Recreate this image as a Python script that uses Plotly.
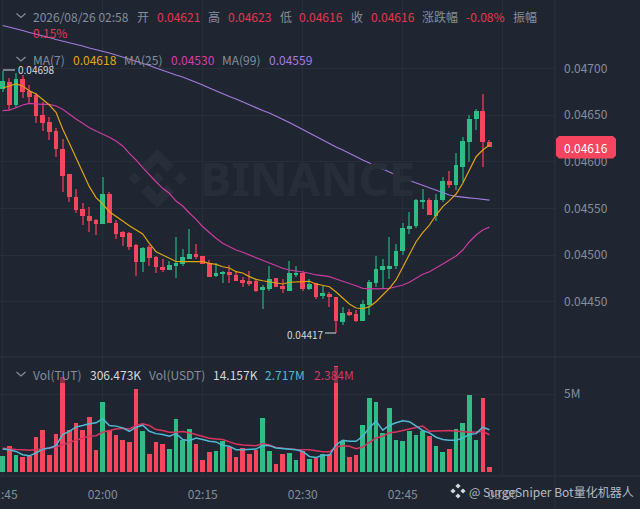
"""TUT/USDT 1m candles with MA lines and a volume panel."""

import pandas as pd
import plotly.graph_objs as go
from plotly.subplots import make_subplots

WIDTH = 640
HEIGHT = 509
PANE_RIGHT = 555
MAIN_BOTTOM = 357
VOL_BOTTOM = 476

BG = "#1f2631"
GRID = "#272e3a"
DIVIDER = "#2c3340"
MUTED = "#848e9c"
UP = "#2ebd85"
DOWN = "#f6465d"
UP_WICK = "#1f7d5f"
DOWN_WICK = "#a63349"
FONT = "Noto Sans CJK SC, Noto Sans, sans-serif"

# prices are kept in ticks of 0.00001
PRICE_TICK = 1e-5

times = pd.date_range("2026-08-26 01:45", "2026-08-26 02:58", freq="min")

opens = [
    4678, 4686, 4661, 4689, 4676, 4672, 4650, 4643, 4633, 4614,
    4587, 4562, 4549, 4542, 4538, 4533, 4566, 4535, 4525, 4524,
    4511, 4493, 4509, 4498, 4487, 4484, 4488, 4491, 4496, 4501,
    4499, 4492, 4478, 4480, 4482, 4479, 4473, 4472, 4472, 4463,
    4464, 4476, 4467, 4462, 4479, 4481, 4464, 4470, 4456, 4458,
    4455, 4428, 4439, 4437, 4430, 4447, 4470, 4484, 4486, 4488,
    4504, 4528, 4531, 4557, 4559, 4542, 4559, 4579, 4575, 4595,
    4621, 4646, 4655, 4621,
]
highs = [
    4697, 4690, 4695, 4693, 4682, 4674, 4664, 4648, 4636, 4625,
    4587, 4571, 4556, 4552, 4539, 4584, 4568, 4538, 4526, 4525,
    4512, 4509, 4511, 4499, 4496, 4494, 4519, 4507, 4528, 4512,
    4499, 4495, 4492, 4483, 4489, 4483, 4477, 4483, 4473, 4468,
    4488, 4476, 4474, 4494, 4488, 4483, 4474, 4470, 4467, 4461,
    4455, 4445, 4442, 4441, 4452, 4473, 4499, 4496, 4520, 4512,
    4535, 4546, 4560, 4571, 4561, 4566, 4584, 4590, 4610, 4627,
    4650, 4657, 4673, 4623,
]
lows = [
    4675, 4656, 4658, 4668, 4663, 4642, 4633, 4623, 4605, 4568,
    4557, 4545, 4532, 4525, 4522, 4533, 4534, 4517, 4510, 4506,
    4478, 4482, 4488, 4481, 4482, 4484, 4476, 4488, 4496, 4496,
    4491, 4477, 4477, 4470, 4470, 4472, 4466, 4467, 4461, 4442,
    4462, 4466, 4459, 4462, 4477, 4462, 4463, 4453, 4453, 4445,
    4417, 4425, 4435, 4428, 4429, 4436, 4466, 4464, 4475, 4485,
    4500, 4523, 4529, 4549, 4543, 4537, 4557, 4572, 4570, 4578,
    4600, 4634, 4595, 4616,
]
closes = [
    4687, 4661, 4689, 4675, 4670, 4649, 4642, 4632, 4614, 4585,
    4562, 4548, 4542, 4537, 4533, 4566, 4534, 4523, 4520, 4509,
    4493, 4508, 4497, 4487, 4484, 4489, 4492, 4498, 4501, 4498,
    4491, 4477, 4481, 4482, 4479, 4472, 4470, 4470, 4462, 4466,
    4475, 4466, 4464, 4481, 4481, 4464, 4469, 4455, 4459, 4455,
    4430, 4438, 4436, 4429, 4448, 4471, 4485, 4488, 4488, 4504,
    4529, 4531, 4559, 4559, 4543, 4559, 4579, 4575, 4597, 4622,
    4646, 4655, 4621, 4616,
]

ma7 = [
    4679.1, 4681.3, 4683.4, 4681.3, 4676.2, 4672.7, 4667.0, 4660.9, 4653.1, 4635.2,
    4619.9, 4603.8, 4587.7, 4573.4, 4561.6, 4554.8, 4546.6, 4541.2, 4536.6, 4531.6,
    4527.0, 4522.7, 4512.7, 4503.7, 4500.2, 4497.0, 4493.2, 4493.0, 4493.0, 4493.0,
    4493.0, 4491.3, 4490.2, 4487.6, 4486.3, 4482.3, 4480.9, 4477.0, 4474.1, 4472.6,
    4471.3, 4469.9, 4469.1, 4471.0, 4471.6, 4472.0, 4472.0, 4469.1, 4467.7, 4466.2,
    4460.5, 4454.1, 4447.7, 4443.4, 4442.6, 4444.8, 4450.1, 4457.3, 4464.5, 4473.4,
    4487.6, 4501.3, 4514.4, 4524.1, 4532.3, 4543.0, 4552.0, 4558.4, 4565.5, 4577.0,
    4591.3, 4605.5, 4612.7, 4618.0,
]
ma25 = [
    4654.8, 4655.5, 4658.0, 4660.9, 4662.7, 4662.0, 4661.6, 4661.6, 4659.8, 4656.3,
    4650.9, 4645.9, 4641.3, 4636.6, 4633.0, 4629.8, 4626.3, 4622.3, 4617.0, 4609.1,
    4602.0, 4593.7, 4585.9, 4578.7, 4571.6, 4566.3, 4558.0, 4552.7, 4545.2, 4538.4,
    4530.5, 4524.1, 4518.1, 4512.7, 4509.1, 4505.5, 4503.1, 4500.2, 4497.3, 4494.1,
    4491.3, 4488.4, 4486.0, 4484.1, 4483.4, 4482.0, 4480.6, 4478.8, 4478.0, 4477.0,
    4474.5, 4472.3, 4470.0, 4467.3, 4464.5, 4463.8, 4463.8, 4464.1, 4464.5, 4466.2,
    4468.0, 4471.0, 4475.2, 4479.5, 4482.3, 4486.0, 4490.5, 4494.8, 4499.1, 4505.5,
    4514.4, 4521.6, 4527.0, 4530.0,
]
ma99 = [
    4746.1, 4744.5, 4742.3, 4740.7, 4738.6, 4737.0, 4734.8, 4733.2, 4731.1, 4729.5,
    4727.9, 4725.7, 4724.1, 4722.0, 4720.4, 4718.2, 4716.6, 4714.5, 4712.3, 4710.2,
    4707.5, 4705.4, 4703.2, 4700.5, 4697.9, 4695.2, 4693.0, 4690.9, 4688.2, 4685.5,
    4682.3, 4679.1, 4675.9, 4673.2, 4670.0, 4667.3, 4664.1, 4660.9, 4658.2, 4655.0,
    4652.3, 4649.1, 4645.9, 4642.1, 4638.4, 4634.6, 4630.9, 4626.6, 4622.9, 4619.1,
    4615.9, 4612.7, 4608.9, 4605.2, 4602.0, 4598.8, 4595.5, 4592.3, 4589.1, 4585.9,
    4582.7, 4580.0, 4577.3, 4574.6, 4572.0, 4569.3, 4566.6, 4564.5, 4562.9, 4561.8,
    4561.3, 4560.7, 4560.2, 4559.0,
]

# volume in millions
volumes = [
    1.05, 1.70, 1.08, 0.97, 1.05, 2.26, 2.73, 1.12, 2.43, 6.06,
    2.73, 3.16, 2.69, 3.55, 1.44, 4.49, 2.69, 2.41, 2.06, 1.91,
    5.35, 2.67, 1.18, 1.94, 1.83, 1.48, 3.42, 2.09, 2.77, 1.83,
    0.80, 1.31, 1.35, 2.00, 1.61, 0.97, 1.55, 1.16, 1.44, 3.48,
    1.38, 0.54, 1.18, 1.23, 0.80, 1.33, 0.86, 0.92, 1.16, 1.16,
    6.77, 1.98, 0.97, 1.10, 2.99, 4.77, 4.52, 2.52, 4.13, 2.09,
    2.02, 2.62, 2.39, 2.62, 2.30, 1.66, 1.29, 1.48, 2.77, 3.12,
    4.95, 2.09, 4.77, 0.36,
]
vol_ma_fast = [
    1.48, 1.44, 1.33, 1.12, 1.05, 1.23, 1.48, 1.55, 1.70, 2.41,
    2.62, 2.90, 2.99, 3.10, 3.16, 3.42, 2.99, 2.95, 2.84, 2.62,
    2.88, 3.01, 2.62, 2.47, 2.41, 2.30, 2.47, 2.09, 2.02, 2.19,
    2.09, 1.98, 1.94, 1.72, 1.66, 1.44, 1.44, 1.48, 1.48, 1.72,
    1.70, 1.55, 1.51, 1.48, 1.44, 1.33, 1.01, 0.95, 1.08, 1.08,
    1.76, 2.04, 1.98, 1.98, 2.30, 2.84, 3.27, 2.69, 3.01, 3.16,
    3.29, 3.23, 2.95, 2.67, 2.52, 2.24, 2.09, 2.04, 2.04, 2.19,
    2.41, 2.47, 2.88, 2.72,
]
vol_ma_slow = [
    1.53, 1.48, 1.46, 1.44, 1.40, 1.44, 1.51, 1.55, 1.61, 1.76,
    1.91, 2.02, 2.19, 2.30, 2.34, 2.56, 2.67, 2.77, 2.82, 2.77,
    2.99, 3.10, 2.99, 2.73, 2.67, 2.56, 2.56, 2.60, 2.52, 2.41,
    2.26, 2.17, 2.13, 2.09, 1.94, 1.81, 1.74, 1.70, 1.70, 1.83,
    1.74, 1.59, 1.53, 1.48, 1.46, 1.46, 1.44, 1.38, 1.31, 1.31,
    1.61, 1.70, 1.66, 1.51, 1.61, 1.91, 2.19, 2.30, 2.52, 2.58,
    2.69, 2.77, 2.86, 2.95, 2.62, 2.62, 2.65, 2.67, 2.62, 2.58,
    2.56, 2.58, 2.62, 2.40,
]

price_ticks = [0.0470, 0.0465, 0.0460, 0.0455, 0.0450, 0.0445]
price_labels = ["0.04700", "0.04650", "0.04600", "0.04550", "0.04500", "0.04450"]


def to_price(ticks):
    return [v * PRICE_TICK for v in ticks]


def px(x):
    return x / WIDTH


def py(y):
    return 1 - y / HEIGHT


def path(points, close=True):
    parts = [f"{'M' if i == 0 else 'L'}{px(x):.5f},{py(y):.5f}" for i, (x, y) in enumerate(points)]
    return " ".join(parts) + (" Z" if close else "")


def label(text, x, y, color=MUTED, size=12, anchor="left"):
    return {
        "text": text,
        "xref": "paper",
        "yref": "paper",
        "x": px(x),
        "y": py(y),
        "xanchor": anchor,
        "yanchor": "middle",
        "showarrow": False,
        "font": {"family": FONT, "size": size, "color": color},
    }


def diamond(cx, cy, r):
    return [(cx, cy - r), (cx + r, cy), (cx, cy + r), (cx - r, cy)]


def chevron(x, y):
    return {
        "type": "path",
        "xref": "paper",
        "yref": "paper",
        "path": path([(x, y), (x + 4.5, y + 4), (x + 9, y)], close=False),
        "line": {"color": MUTED, "width": 1.2},
    }


def rule(x0, y0, x1, y1, color=DIVIDER, width=1):
    return {
        "type": "line",
        "xref": "paper",
        "yref": "paper",
        "x0": px(x0),
        "y0": py(y0),
        "x1": px(x1),
        "y1": py(y1),
        "line": {"color": color, "width": width},
    }


def filled(points, color):
    return {
        "type": "path",
        "xref": "paper",
        "yref": "paper",
        "path": path(points),
        "fillcolor": color,
        "line": {"width": 0},
    }


is_up = [c >= o for o, c in zip(opens, closes)]
wick_colors = [UP_WICK if u else DOWN_WICK for u in is_up]
candle_colors = [UP if u else DOWN for u in is_up]
body_base = [min(o, c) * PRICE_TICK for o, c in zip(opens, closes)]
body_size = [max(abs(c - o), 0.5) * PRICE_TICK for o, c in zip(opens, closes)]
wick_size = [(h - l) * PRICE_TICK for h, l in zip(highs, lows)]

MINUTE_MS = 60000

fig = make_subplots(rows=2, cols=1, shared_xaxes=True, vertical_spacing=0)

# Candles: wick first, body on top
fig.add_trace(
    go.Bar(
        x=times,
        y=wick_size,
        base=to_price(lows),
        width=0.16 * MINUTE_MS,
        marker={"color": wick_colors, "line": {"width": 0}},
    ),
    row=1,
    col=1,
)
fig.add_trace(
    go.Bar(
        x=times,
        y=body_size,
        base=body_base,
        width=0.72 * MINUTE_MS,
        marker={"color": candle_colors, "line": {"width": 0}},
    ),
    row=1,
    col=1,
)

for values, color in [(ma99, "#a47bdc"), (ma25, "#cb3ba3"), (ma7, "#dfa40e")]:
    fig.add_trace(
        go.Scatter(
            x=times,
            y=to_price(values),
            mode="lines",
            line={"color": color, "width": 1.2},
        ),
        row=1,
        col=1,
    )

# Volume panel
fig.add_trace(
    go.Bar(
        x=times,
        y=volumes,
        width=0.68 * MINUTE_MS,
        marker={"color": candle_colors, "line": {"width": 0}},
    ),
    row=2,
    col=1,
)
for values, color in [(vol_ma_slow, "#d9345f"), (vol_ma_fast, "#4fb9d4")]:
    fig.add_trace(
        go.Scatter(
            x=times,
            y=values,
            mode="lines",
            line={"color": color, "width": 1.5},
        ),
        row=2,
        col=1,
    )

RED_TEXT = "#e5364f"
header_row = [
    ("2026/08/26 02:58", 31.4, MUTED),
    ("开", 134.7, MUTED),
    ("0.04621", 154.7, RED_TEXT),
    ("高", 206, MUTED),
    ("0.04623", 226, RED_TEXT),
    ("低", 277.5, MUTED),
    ("0.04616", 297, RED_TEXT),
    ("收", 349, MUTED),
    ("0.04616", 368.6, RED_TEXT),
    ("涨跌幅", 420.4, MUTED),
    ("-0.08%", 464, RED_TEXT),
    ("振幅", 511, MUTED),
]
ma_row = [
    ("MA(7)", 31.4, MUTED),
    ("0.04618", 71, "#e3a60f"),
    ("MA(25)", 122.4, MUTED),
    ("0.04530", 168.6, "#d63fa8"),
    ("MA(99)", 220.4, MUTED),
    ("0.04559", 266.5, "#a77be8"),
]
vol_row = [
    ("Vol(TUT)", 31, MUTED),
    ("306.473K", 88, "#d5d8dd"),
    ("Vol(USDT)", 146.7, MUTED),
    ("14.157K", 211, "#d5d8dd"),
    ("2.717M", 263.3, "#4fb9d4"),
    ("2.384M", 311.7, "#d9345f"),
]

annotations = [label(t, x, 16.5, c) for t, x, c in header_row]
annotations.append(label("0.15%", 31.4, 33, RED_TEXT))
annotations += [label(t, x, 59, c) for t, x, c in ma_row]
annotations += [label(t, x, 374, c) for t, x, c in vol_row]
annotations += [
    label("0.04698", 16, 70, "#d5d8dd", size=10),
    label("0.04417", 285, 334, "#d5d8dd", size=10),
    label("0.04616", 586, 147.5, "#ffffff", anchor="center"),
    label("BINANCE", 198, 178, "#272e39", size=47),
    label("@ SurgeSniper Bot量化机器人", 467, 491, "#b4b9c2", size=12),
]
annotations[-2]["font"]["family"] = "Noto Sans, sans-serif"
annotations[-2]["font"]["weight"] = 700

WATERMARK = "#272e39"
shapes = [
    # Panel dividers
    rule(PANE_RIGHT, 0, PANE_RIGHT, HEIGHT),
    rule(0, MAIN_BOTTOM, WIDTH, MAIN_BOTTOM),
    rule(0, VOL_BOTTOM, WIDTH, VOL_BOTTOM),
    # Backdrop of the volume legend
    {
        "type": "rect",
        "xref": "paper",
        "yref": "paper",
        "x0": px(26),
        "x1": px(356),
        "y0": py(367),
        "y1": py(383),
        "fillcolor": "rgba(31,38,49,0.55)",
        "line": {"width": 0},
    },
    chevron(16.5, 13.5),
    chevron(16.5, 57),
    chevron(16.5, 372),
    # High and low markers
    rule(3, 70, 15, 70, "#d5d8dd"),
    rule(325, 333, 336, 333, "#d5d8dd"),
    # Last price tag
    {
        "type": "path",
        "xref": "paper",
        "yref": "paper",
        "path": path(
            [
                (559, 136), (613, 136), (616, 139), (616, 155.5),
                (613, 158.5), (559, 158.5), (556, 155.5), (556, 139),
            ]
        ),
        "fillcolor": "#f5455f",
        "line": {"width": 0},
    },
]

# Binance mark behind the candles
for points in [
    diamond(134.5, 178.5, 6.5),
    diamond(180.5, 178.5, 6.5),
    diamond(157.5, 178.5, 6.5),
    [(157.5, 149), (174, 165.5), (167, 172), (157.5, 162.5), (148, 172), (141, 165.5)],
    [(157.5, 208), (174, 191.5), (167, 185), (157.5, 194.5), (148, 185), (141, 191.5)],
]:
    shape = filled(points, WATERMARK)
    shape["layer"] = "below"
    shapes.append(shape)

# Small mark next to the handle at the bottom right
for cx, cy in [(458, 486), (458, 496), (453, 491), (463, 491)]:
    shapes.append(filled(diamond(cx, cy, 2.6), "#d5d8dd"))

fig.update_layout(
    width=WIDTH,
    height=HEIGHT,
    margin={"l": 0, "r": 0, "t": 0, "b": 0},
    paper_bgcolor=BG,
    plot_bgcolor=BG,
    showlegend=False,
    barmode="overlay",
    bargap=0,
    annotations=annotations,
    shapes=shapes,
)
fig.update_xaxes(
    domain=[0, PANE_RIGHT / WIDTH],
    range=["2026-08-26 01:44:36", "2026-08-26 03:07:50"],
    tick0="2026-08-26 01:45",
    dtick=15 * MINUTE_MS,
    tickformat="%H:%M",
    showgrid=True,
    gridcolor=GRID,
    gridwidth=1,
    zeroline=False,
    showline=False,
    ticks="",
    automargin=False,
    tickfont={"family": FONT, "size": 12, "color": MUTED},
    ticklabelstandoff=10,
    ticklabeloverflow="allow",
)
fig.update_yaxes(
    domain=[1 - MAIN_BOTTOM / HEIGHT, 1],
    range=[0.043909, 0.047734],
    side="right",
    tickvals=price_ticks,
    ticktext=price_labels,
    showgrid=True,
    gridcolor=GRID,
    zeroline=False,
    showline=False,
    ticks="",
    automargin=False,
    tickfont={"family": FONT, "size": 12, "color": MUTED},
    ticklabelstandoff=8,
    row=1,
    col=1,
)
fig.update_yaxes(
    domain=[1 - VOL_BOTTOM / HEIGHT, 1 - MAIN_BOTTOM / HEIGHT],
    range=[-0.24, 7.37],
    side="right",
    tickvals=[5],
    ticktext=["5M"],
    showgrid=True,
    gridcolor=GRID,
    zeroline=False,
    showline=False,
    ticks="",
    automargin=False,
    tickfont={"family": FONT, "size": 12, "color": MUTED},
    ticklabelstandoff=8,
    row=2,
    col=1,
)

# The page keeps a default 8px body margin otherwise
fig.write_html(
    "out.html",
    config={"displayModeBar": False},
    post_script="document.body.style.margin='0';document.body.style.overflow='hidden';",
)
